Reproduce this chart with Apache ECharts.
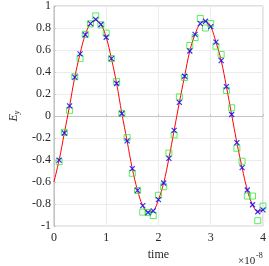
<!DOCTYPE html>
<html>
<head>
<meta charset="utf-8">
<script src="https://cdn.jsdelivr.net/npm/echarts@6/dist/echarts.min.js"></script>
<style>
html,body{margin:0;padding:0;background:#fff;}
#chart{width:269px;height:266px;}
</style>
</head>
<body>
<div id="chart"></div>
<script>
// sample times (units of 1e-8 s)
var sampleTimes = [0.1,0.2,0.3,0.4,0.5,0.6,0.7,0.8,0.9,1.0,
                   1.1,1.2,1.3,1.4,1.5,1.6,1.7,1.8,1.9,2.0,
                   2.1,2.2,2.3,2.4,2.5,2.6,2.7,2.8,2.9,3.0,
                   3.1,3.2,3.3,3.4,3.5,3.6,3.7,3.8,3.9,4.0];
// blue x markers
var crossValues = [-0.40,-0.154,0.093,0.354,0.565,0.739,0.84,0.878,0.832,0.716,
                   0.522,0.296,0.023,-0.226,-0.478,-0.676,-0.814,-0.876,-0.861,-0.76,
                   -0.608,-0.384,-0.13,0.124,0.362,0.591,0.742,0.84,0.861,0.812,
                   0.672,0.504,0.267,0.014,-0.241,-0.468,-0.672,-0.806,-0.87,-0.852];
// green square markers
var squareValues = [-0.415,-0.148,0.052,0.357,0.524,0.742,0.838,0.91,0.829,0.754,
                    0.522,0.313,0.023,-0.196,-0.52,-0.676,-0.873,-0.876,-0.904,-0.72,
                    -0.642,-0.337,-0.171,0.174,0.351,0.641,0.713,0.887,0.80,0.84,
                    0.635,0.559,0.232,0.075,-0.293,-0.411,-0.727,-0.727,-0.951,-0.818];
// red reference curve
var lineTimes = [0,0.1,0.2,0.3,0.4,0.5,0.6,0.7,0.8,0.9,1.0,
                 1.1,1.2,1.3,1.4,1.5,1.6,1.7,1.8,1.9,2.0,
                 2.1,2.2,2.3,2.4,2.5,2.6,2.7,2.8,2.9,3.0,
                 3.1,3.2,3.3,3.4,3.5,3.6,3.7,3.8,3.9,4.0];
var lineValues = [-0.60,-0.40,-0.154,0.093,0.354,0.565,0.739,0.84,0.872,0.832,0.716,
                  0.522,0.296,0.023,-0.226,-0.478,-0.676,-0.814,-0.872,-0.861,-0.76,
                  -0.608,-0.384,-0.13,0.124,0.362,0.591,0.742,0.84,0.861,0.812,
                  0.672,0.504,0.267,0.014,-0.241,-0.468,-0.672,-0.806,-0.866,-0.852];
var xTicks = {min:0, max:4, interval:1};
var yTicks = {min:-1, max:1, interval:0.2};

function pairs(xs, ys){ return xs.map(function(x,i){ return [x, ys[i]]; }); }

var font = 'Liberation Serif';
var chart = echarts.init(document.getElementById('chart'), null, {renderer:'canvas'});
chart.setOption({
  animation:false,
  backgroundColor:'#fff',
  grid:{left:33, top:4, right:4, bottom:31, show:true, borderColor:'#c4c4c4', borderWidth:1, containLabel:false},
  xAxis:{
    type:'value', min:xTicks.min, max:xTicks.max, interval:xTicks.interval,
    name:'time', nameLocation:'middle', nameGap:21,
    nameTextStyle:{fontFamily:font, fontSize:12, color:'#262626'},
    axisLine:{show:true, lineStyle:{color:'#c4c4c4'}},
    axisTick:{show:true, inside:true, length:2, lineStyle:{color:'#c4c4c4'}},
    axisLabel:{fontFamily:font, fontSize:12, color:'#262626', margin:6},
    splitLine:{show:true, lineStyle:{color:'#ececec', width:1}}
  },
  yAxis:{
    type:'value', min:yTicks.min, max:yTicks.max, interval:yTicks.interval,
    name:'{i|E}{s|y}', nameLocation:'middle', nameGap:25, nameRotate:90,
    nameTextStyle:{rich:{
      i:{fontFamily:font, fontStyle:'italic', fontSize:12, color:'#262626'},
      s:{fontFamily:font, fontStyle:'italic', fontSize:8, color:'#262626', verticalAlign:'bottom', padding:[6,0,0,0]}
    }},
    axisLine:{show:true, lineStyle:{color:'#c4c4c4'}},
    axisTick:{show:true, inside:true, length:2, lineStyle:{color:'#c4c4c4'}},
    axisLabel:{fontFamily:font, fontSize:12, color:'#262626', margin:3,
      formatter:function(v){ var r = Math.round(v*10)/10; return String(r); }},
    splitLine:{show:true, lineStyle:{color:'#ececec', width:1}}
  },
  graphic:[
    {type:'text', left:238, top:256, style:{text:'×10', fontFamily:font, fontSize:11, fill:'#262626'}},
    {type:'text', left:256, top:252, style:{text:'-8', fontFamily:font, fontSize:8, fill:'#262626'}}
  ],
  series:[
    {type:'line', data:pairs(lineTimes, lineValues), smooth:0.4, showSymbol:false,
     lineStyle:{color:'#ff0000', width:1}, z:2},
    {type:'scatter', data:pairs(sampleTimes, squareValues), symbol:'rect', symbolSize:6,
     itemStyle:{color:'rgba(0,0,0,0)', borderColor:'#33e833', borderWidth:1}, z:3},
    {type:'scatter', data:pairs(sampleTimes, crossValues),
     symbol:'path://M0,0L10,10M10,0L0,10', symbolSize:5,
     itemStyle:{color:'rgba(0,0,0,0)', borderColor:'#0000ff', borderWidth:1.2}, z:4}
  ]
});
</script>
</body>
</html>
